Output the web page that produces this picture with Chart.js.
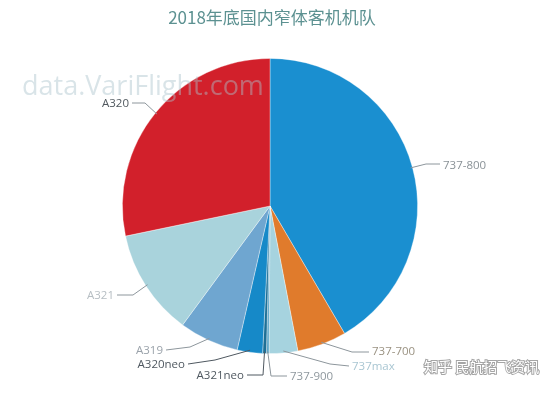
<!DOCTYPE html>
<html><head><meta charset="utf-8">
<script src="https://cdn.jsdelivr.net/npm/chart.js@4/dist/chart.umd.min.js"></script>
<style>html,body{margin:0;padding:0;background:#fff;}#wrap{width:550px;height:393px;}</style>
</head><body><div id="wrap"><canvas id="c" width="550" height="393"></canvas></div>
<script>
const categories = ['737-800','737-700','737max','737-900','A321neo','A320neo','A319','A321','A320'];
const fleetValues = [1500, 195, 113, 10, 15, 100, 235, 420, 1020];
const sliceColors = ['#1a8fd0','#e07b2c','#a6d3df','#5aa6c8','#1d6f96','#1689c8','#6fa6d0','#a9d3dc','#d2202b'];
const labelColors = ['#8a9297','#9a9282','#a9c6d2','#8f989e','#4f5860','#4f5860','#9aa2aa','#b6bec3','#50585e'];
const titleText = '2018年底国内窄体客机机队';

// leader layout: [elbowX, elbowY, endX, endY, textX, textY, align]
const leaderLayout = [
  [426,164, 440,164, 443,166,'left'],
  [352,352, 369,352, 372,352,'left'],
  [330,364, 349,366, 352,367,'left'],
  [271,376, 287,376, 290,377,'left'],
  [263,375, 247,375, 244,376,'right'],
  [215,360, 188,364, 185,365,'right'],
  [190,347, 166,350, 163,351,'right'],
  [133,295, 117,295, 114,296,'right'],
  [145,103, 132,103, 129,104,'right']
];

const decor = {
  id:'decor',
  afterDatasetsDraw(chart){
    const ctx = chart.ctx;
    const meta = chart.getDatasetMeta(0);
    ctx.save();
    // watermark over the pie
    ctx.font = '27px "Open Sans", sans-serif';
    ctx.fillStyle = 'rgba(170,195,205,0.45)';
    ctx.textBaseline = 'middle';
    ctx.textAlign = 'left';
    ctx.fillText('data.VariFlight.com', 22, 87);
    // title
    ctx.font = '17px "Noto Sans CJK SC", sans-serif';
    ctx.fillStyle = '#5c9191';
    ctx.textAlign = 'center';
    ctx.textBaseline = 'middle';
    ctx.fillText(titleText, 272, 18);
    // labels
    ctx.font = '11.5px "Open Sans", sans-serif';
    meta.data.forEach((arc, i) => {
      const p = arc.getProps(['x','y','startAngle','endAngle','outerRadius'], true);
      const mid = (p.startAngle + p.endAngle) / 2;
      const ax = p.x + Math.cos(mid) * (p.outerRadius - 2);
      const ay = p.y + Math.sin(mid) * (p.outerRadius - 2);
      const L = leaderLayout[i];
      ctx.strokeStyle = i === 4 || i === 5 ? '#4f5860' : '#8d969c';
      ctx.lineWidth = 1;
      ctx.beginPath();
      ctx.moveTo(ax, ay);
      ctx.lineTo(L[0], L[1]);
      ctx.lineTo(L[2], L[3]);
      ctx.stroke();
      ctx.fillStyle = labelColors[i];
      ctx.textAlign = L[6];
      ctx.textBaseline = 'middle';
      ctx.fillText(categories[i], L[4], L[5]);
    });
    // bottom-right watermark
    ctx.font = '14px "Noto Sans CJK SC", sans-serif';
    ctx.textAlign = 'left';
    ctx.lineWidth = 2;
    ctx.strokeStyle = '#a5a5a5';
    ctx.strokeText('知乎 民航招飞资讯', 424, 367);
    ctx.fillStyle = '#ffffff';
    ctx.fillText('知乎 民航招飞资讯', 424, 367);
    ctx.restore();
  }
};

new Chart(document.getElementById('c'), {
  type: 'pie',
  data: {
    labels: categories,
    datasets: [{
      data: fleetValues,
      backgroundColor: sliceColors,
      borderColor: 'rgba(255,255,255,0.45)',
      borderWidth: 0.8
    }]
  },
  options: {
    responsive: false,
    animation: false,
    layout: { padding: { top: 58, bottom: 39, left: 122, right: 132 } },
    plugins: { legend: { display: false }, tooltip: { enabled: false }, title: { display: false } }
  },
  plugins: [decor]
});
</script>
</body></html>
